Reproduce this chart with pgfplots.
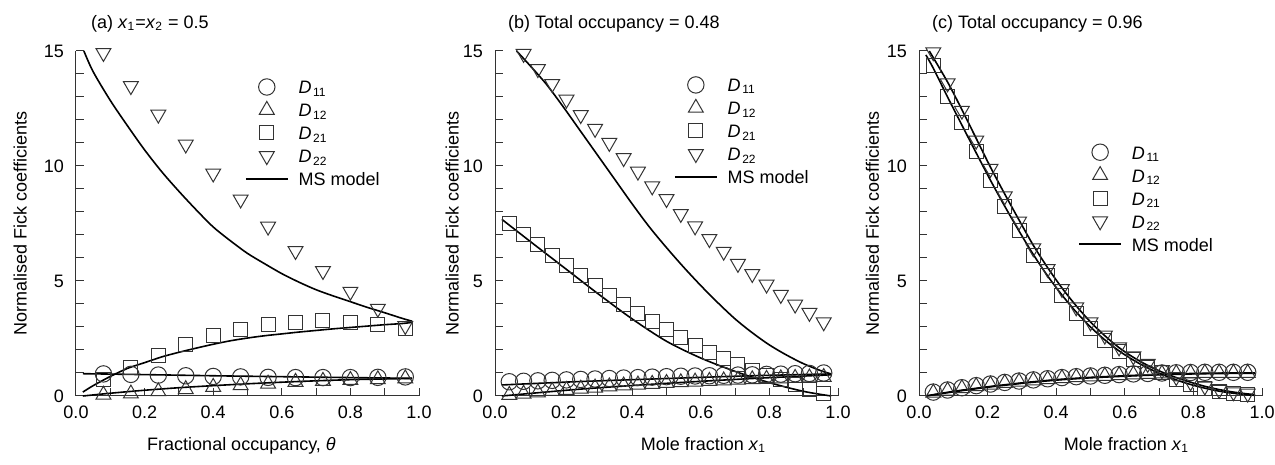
\documentclass[border=0pt]{standalone}
\usepackage{fontspec}
\setmainfont{Liberation Sans}
\usepackage{pgfplots}
\pgfplotsset{compat=1.18}
\newcommand{\Dl}[1]{\textit{D}\kern0.8pt\textsubscript{#1}}
\pgfplotsset{
  fick/.style={
    scale only axis, width=171.5pt, height=172.5pt,
    xmin=0, xmax=1, ymin=0, ymax=15,
    axis x line*=bottom, axis y line*=left,
    axis line style={-, black!80, line width=0.5pt},
    xtick={0,0.2,0.4,0.6,0.8,1}, minor xtick={0.1,0.3,0.5,0.7,0.9},
    ytick={0,5,10,15}, minor ytick={1,2,3,4,6,7,8,9,11,12,13,14},
    tick align=inside, major tick length=4pt, minor tick length=4pt,
    every tick/.style={black!80, line width=0.5pt},
    /pgf/number format/assume math mode=true,
    xticklabel style={/pgf/number format/.cd, fixed, fixed zerofill, precision=1, /tikz/.cd, yshift=-1.5pt},
    yticklabel style={xshift=-2.5pt},
    ylabel={Normalised Fick coefficients},
    every axis title shift=0pt,
    clip=false,
    legend cell align=left,
    legend image code/.code={\draw[mark repeat=2,mark phase=2,##1] plot coordinates {(0pt,0pt) (10.5pt,0pt) (21pt,0pt)};},
    legend style={draw=none, fill=none, inner sep=0pt, outer sep=0pt, anchor=north west,
      row sep=0pt, column sep=5pt,
      nodes={inner sep=0pt, text height=9.25pt, text depth=2.25pt}},
  },
  pc/.style={only marks, mark=o, mark size=4.1pt, mark options={black!80, line width=0.5pt}},
  pt/.style={only marks, mark=triangle, mark size=4.3pt, mark options={black!80, line width=0.5pt}},
  ps/.style={only marks, mark=square, mark size=3.5pt, mark options={black!80, line width=0.5pt}},
  pv/.style={only marks, mark=triangle, mark size=4.3pt, mark options={black!80, line width=0.5pt, rotate=180}},
  ml/.style={no marks, black, line width=0.8pt, smooth},
}
\begin{document}
\begin{tikzpicture}[font=\fontsize{9pt}{10.8pt}\selectfont]
\useasboundingbox (0,0) rectangle (637.5pt,232.5pt);
% ---------------- (a)
\begin{axis}[fick, at={(38pt,34.5pt)}, anchor=south west,
  title={(a) \textit{x}\textsubscript{1}=\textit{x}\textsubscript{2} = 0.5},
  every axis title/.style={at={(axis description cs:0.0429,1.0658)}, anchor=base west, inner sep=0pt},
  xlabel={Fractional occupancy, \textit{θ}},
  every axis x label/.style={at={(axis description cs:0.4825,-0.1583)}, anchor=base},
  every axis y label/.style={at={(axis description cs:-0.163,0.5)}, anchor=center, rotate=90},
  legend style={at={(axis description cs:0.4927,0.929)}}]
\addplot[pc] coordinates {(0.08,0.96)(0.16,0.94)(0.24,0.91)(0.32,0.88)(0.40,0.85)(0.48,0.83)(0.56,0.81)(0.64,0.80)(0.72,0.80)(0.80,0.80)(0.88,0.81)(0.96,0.83)};
\addplot[pt] coordinates {(0.08,0.05)(0.16,0.10)(0.24,0.20)(0.32,0.29)(0.40,0.39)(0.48,0.46)(0.56,0.53)(0.64,0.61)(0.72,0.65)(0.80,0.69)(0.88,0.72)(0.96,0.76)};
\addplot[ps] coordinates {(0.08,0.71)(0.16,1.24)(0.24,1.78)(0.32,2.22)(0.40,2.63)(0.48,2.90)(0.56,3.12)(0.64,3.20)(0.72,3.27)(0.80,3.21)(0.88,3.13)(0.96,2.94)};
\addplot[pv] coordinates {(0.08,14.92)(0.16,13.48)(0.24,12.24)(0.32,10.94)(0.40,9.68)(0.48,8.55)(0.56,7.37)(0.64,6.31)(0.72,5.44)(0.80,4.54)(0.88,3.80)(0.96,3.05)};
\addplot[ml] coordinates {(0.023,15.0)(0.05,14.1)(0.1,12.85)(0.15,11.75)(0.2,10.7)(0.25,9.75)(0.3,8.9)(0.35,8.1)(0.4,7.35)(0.45,6.75)(0.5,6.2)(0.55,5.75)(0.6,5.32)(0.65,4.95)(0.7,4.62)(0.75,4.35)(0.8,4.1)(0.85,3.85)(0.9,3.62)(0.95,3.38)(0.98,3.25)};
\addplot[ml, forget plot] coordinates {(0.02,0.17)(0.05,0.45)(0.1,0.85)(0.15,1.2)(0.2,1.45)(0.25,1.7)(0.3,1.9)(0.35,2.08)(0.4,2.25)(0.45,2.4)(0.5,2.52)(0.55,2.62)(0.6,2.7)(0.65,2.78)(0.7,2.85)(0.75,2.92)(0.8,2.98)(0.85,3.04)(0.9,3.1)(0.95,3.15)(0.98,3.2)};
\addplot[ml, forget plot] coordinates {(0.02,0.97)(0.2,0.93)(0.4,0.88)(0.6,0.84)(0.8,0.80)(0.98,0.77)};
\addplot[ml, forget plot] coordinates {(0.02,0.0)(0.1,0.12)(0.2,0.25)(0.3,0.36)(0.4,0.45)(0.5,0.53)(0.6,0.6)(0.7,0.66)(0.8,0.71)(0.9,0.74)(0.98,0.76)};
\legend{\Dl{11},\Dl{12},\Dl{21},\Dl{22},MS model}
\end{axis}
% ---------------- (b)
\begin{axis}[fick, at={(247.5pt,34.5pt)}, anchor=south west,
  title={(b) Total occupancy = 0.48},
  every axis title/.style={at={(axis description cs:0.037,1.0658)}, anchor=base west, inner sep=0pt},
  xlabel={Mole fraction \textit{x}\textsubscript{1}},
  every axis x label/.style={at={(axis description cs:0.6079,-0.1583)}, anchor=base},
  every axis y label/.style={at={(axis description cs:-0.125,0.5)}, anchor=center, rotate=90},
  legend style={at={(axis description cs:0.522,0.935)}}]
\addplot[pc] coordinates {(0.0417,0.62)(0.0833,0.64)(0.125,0.66)(0.1667,0.68)(0.2083,0.70)(0.25,0.72)(0.2917,0.74)(0.3333,0.76)(0.375,0.78)(0.4167,0.80)(0.4583,0.82)(0.5,0.84)(0.5417,0.86)(0.5833,0.87)(0.625,0.88)(0.6667,0.90)(0.7083,0.91)(0.75,0.92)(0.7917,0.94)(0.8333,0.95)(0.875,0.97)(0.9167,0.98)(0.9583,1.00)};
\addplot[pt] coordinates {(0.0417,0.04)(0.0833,0.09)(0.125,0.15)(0.1667,0.21)(0.2083,0.26)(0.25,0.31)(0.2917,0.36)(0.3333,0.41)(0.375,0.45)(0.4167,0.49)(0.4583,0.52)(0.5,0.56)(0.5417,0.59)(0.5833,0.62)(0.625,0.65)(0.6667,0.67)(0.7083,0.70)(0.75,0.72)(0.7917,0.74)(0.8333,0.76)(0.875,0.78)(0.9167,0.80)(0.9583,0.82)};
\addplot[ps] coordinates {(0.0417,7.51)(0.0833,7.04)(0.125,6.59)(0.1667,6.13)(0.2083,5.67)(0.25,5.22)(0.2917,4.80)(0.3333,4.39)(0.375,3.99)(0.4167,3.59)(0.4583,3.23)(0.5,2.88)(0.5417,2.54)(0.5833,2.19)(0.625,1.90)(0.6667,1.61)(0.7083,1.35)(0.75,1.10)(0.7917,0.87)(0.8333,0.70)(0.875,0.48)(0.9167,0.29)(0.9583,0.12)};
\addplot[pv] coordinates {(0.0833,14.88)(0.125,14.22)(0.1667,13.57)(0.2083,12.89)(0.25,12.22)(0.2917,11.62)(0.3333,11.01)(0.375,10.35)(0.4167,9.76)(0.4583,9.12)(0.5,8.57)(0.5417,7.92)(0.5833,7.38)(0.625,6.83)(0.6667,6.28)(0.7083,5.75)(0.75,5.31)(0.7917,4.85)(0.8333,4.40)(0.875,3.98)(0.9167,3.62)(0.9583,3.21)};
\addplot[ml] coordinates {(0.063,15.0)(0.1,14.4)(0.15,13.55)(0.2,12.55)(0.25,11.5)(0.3,10.45)(0.35,9.4)(0.4,8.35)(0.45,7.35)(0.5,6.45)(0.55,5.6)(0.6,4.8)(0.65,4.05)(0.7,3.35)(0.75,2.75)(0.8,2.22)(0.85,1.78)(0.9,1.4)(0.95,1.1)(0.98,0.96)};
\addplot[ml, forget plot] coordinates {(0.02,7.68)(0.1,6.75)(0.2,5.6)(0.3,4.45)(0.4,3.35)(0.5,2.38)(0.6,1.65)(0.7,1.07)(0.8,0.58)(0.9,0.2)(0.98,0.0)};
\addplot[ml, forget plot] coordinates {(0.02,0.48)(0.25,0.63)(0.5,0.76)(0.75,0.88)(0.98,0.96)};
\addplot[ml, forget plot] coordinates {(0.02,0.0)(0.25,0.3)(0.5,0.55)(0.75,0.76)(0.98,0.92)};
\legend{\Dl{11},\Dl{12},\Dl{21},\Dl{22},MS model}
\end{axis}
% ---------------- (c)
\begin{axis}[fick, at={(459.5pt,34.5pt)}, anchor=south west,
  title={(c) Total occupancy = 0.96},
  every axis title/.style={at={(axis description cs:0.037,1.0658)}, anchor=base west, inner sep=0pt},
  xlabel={Mole fraction \textit{x}\textsubscript{1}},
  every axis x label/.style={at={(axis description cs:0.605,-0.1583)}, anchor=base},
  every axis y label/.style={at={(axis description cs:-0.1356,0.5)}, anchor=center, rotate=90},
  legend style={at={(axis description cs:0.4645,0.740)}}]
\addplot[pc] coordinates {(0.0417,0.17)(0.0833,0.26)(0.125,0.36)(0.1667,0.45)(0.2083,0.52)(0.25,0.59)(0.2917,0.65)(0.3333,0.70)(0.375,0.75)(0.4167,0.80)(0.4583,0.84)(0.5,0.87)(0.5417,0.90)(0.5833,0.93)(0.625,0.96)(0.6667,0.98)(0.7083,1.00)(0.75,1.01)(0.7917,1.02)(0.8333,1.03)(0.875,1.03)(0.9167,1.03)(0.9583,1.03)};
\addplot[pt] coordinates {(0.0417,0.14)(0.0833,0.23)(0.125,0.33)(0.1667,0.42)(0.2083,0.49)(0.25,0.56)(0.2917,0.62)(0.3333,0.67)(0.375,0.72)(0.4167,0.77)(0.4583,0.81)(0.5,0.84)(0.5417,0.87)(0.5833,0.90)(0.625,0.93)(0.6667,0.95)(0.7083,0.97)(0.75,0.98)(0.7917,0.99)(0.8333,1.00)(0.875,1.00)(0.9167,1.00)(0.9583,1.00)};
\addplot[ps] coordinates {(0.0417,14.35)(0.0833,13.04)(0.125,11.88)(0.1667,10.62)(0.2083,9.39)(0.25,8.23)(0.2917,7.18)(0.3333,6.13)(0.375,5.22)(0.4167,4.39)(0.4583,3.59)(0.5,2.94)(0.5417,2.41)(0.5833,1.93)(0.625,1.57)(0.6667,1.25)(0.7083,1.01)(0.75,0.70)(0.7917,0.48)(0.8333,0.33)(0.875,0.19)(0.9167,0.12)(0.9583,0.08)};
\addplot[pv] coordinates {(0.0417,14.95)(0.0833,13.6)(0.125,12.41)(0.1667,11.11)(0.2083,9.88)(0.25,8.69)(0.2917,7.59)(0.3333,6.43)(0.375,5.53)(0.4167,4.66)(0.4583,3.86)(0.5,3.21)(0.5417,2.63)(0.5833,2.12)(0.625,1.73)(0.6667,1.40)(0.7083,1.13)(0.75,0.83)(0.7917,0.60)(0.8333,0.42)(0.875,0.27)(0.9167,0.17)(0.9583,0.11)};
\addplot[ml] coordinates {(0.03,15.0)(0.0833,13.65)(0.125,12.45)(0.1667,11.2)(0.2083,9.95)(0.25,8.78)(0.2917,7.65)(0.3333,6.55)(0.375,5.58)(0.4167,4.70)(0.4583,3.92)(0.5,3.22)(0.5417,2.62)(0.5833,2.1)(0.625,1.68)(0.6667,1.33)(0.7083,1.04)(0.75,0.8)(0.7917,0.6)(0.8333,0.42)(0.875,0.28)(0.9167,0.17)(0.9583,0.09)(0.98,0.06)};
\addplot[ml, forget plot] coordinates {(0.02,14.83)(0.0417,14.25)(0.0833,13.0)(0.125,11.78)(0.1667,10.57)(0.2083,9.38)(0.25,8.25)(0.2917,7.17)(0.3333,6.15)(0.375,5.22)(0.4167,4.39)(0.4583,3.65)(0.5,3.0)(0.5417,2.44)(0.5833,1.96)(0.625,1.56)(0.6667,1.22)(0.7083,0.94)(0.75,0.7)(0.7917,0.5)(0.8333,0.34)(0.875,0.21)(0.9167,0.12)(0.9583,0.05)(0.98,0.03)};
\addplot[ml, forget plot] coordinates {(0.02,0.0)(0.1,0.2)(0.2,0.4)(0.3,0.57)(0.4,0.71)(0.5,0.81)(0.6,0.88)(0.7,0.94)(0.8,0.98)(0.9,1.0)(0.98,1.0)};
\addplot[ml, forget plot] coordinates {(0.02,0.0)(0.1,0.18)(0.2,0.38)(0.3,0.55)(0.4,0.69)(0.5,0.79)(0.6,0.86)(0.7,0.92)(0.8,0.96)(0.9,0.98)(0.98,0.98)};
\legend{\Dl{11},\Dl{12},\Dl{21},\Dl{22},MS model}
\end{axis}
\end{tikzpicture}
\end{document}
